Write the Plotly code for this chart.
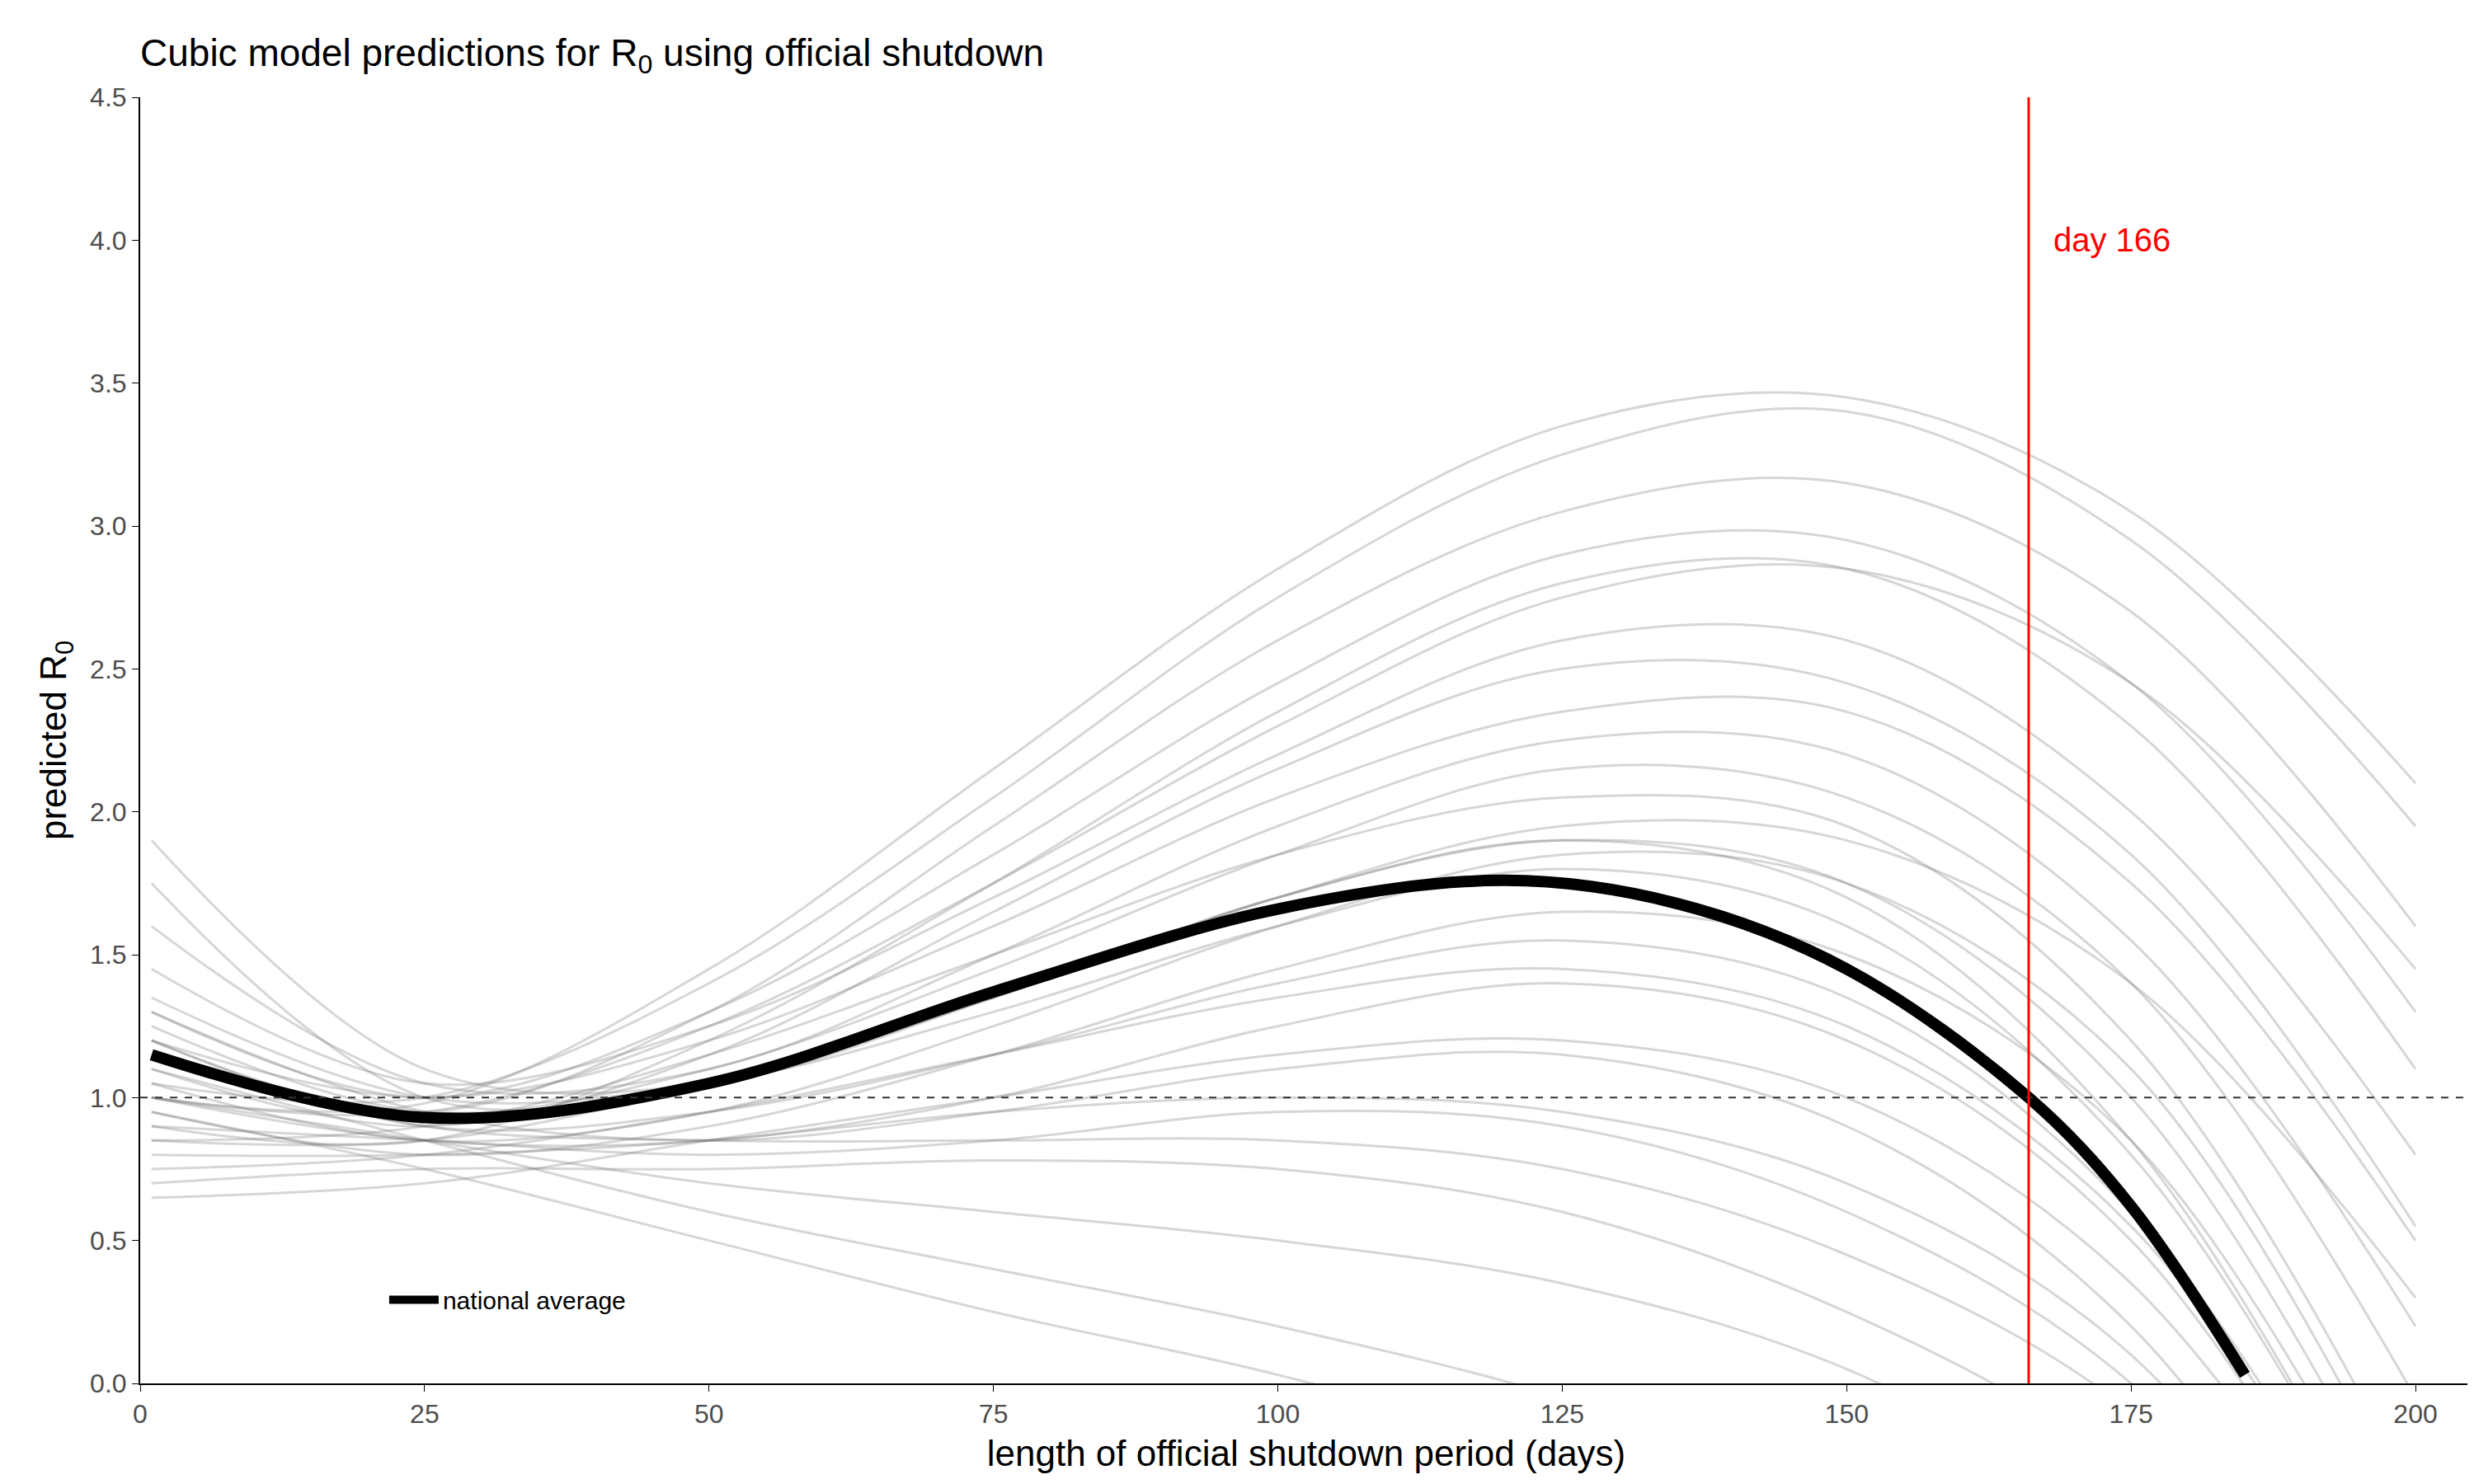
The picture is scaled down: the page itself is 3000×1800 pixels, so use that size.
import plotly.graph_objects as go

xs = [1, 25, 50, 75, 100, 125, 150, 175, 200]

# grey state curves, read at xs (last value may dip below 0 where the curve leaves the plot)
curves = [
    [1.00, 0.98, 1.45, 2.15, 2.85, 3.35, 3.45, 3.05, 2.10],
    [1.05, 1.00, 1.40, 2.05, 2.75, 3.25, 3.40, 2.95, 1.95],
    [1.20, 0.95, 1.30, 1.95, 2.60, 3.05, 3.15, 2.70, 1.60],
    [1.30, 1.00, 1.30, 1.85, 2.45, 2.90, 2.95, 2.45, 1.30],
    [0.90, 0.85, 1.20, 1.75, 2.35, 2.80, 2.85, 2.30, 1.10],
    [1.45, 1.05, 1.25, 1.70, 2.20, 2.60, 2.60, 2.00, 0.80],
    [1.10, 0.90, 1.15, 1.65, 2.15, 2.50, 2.45, 1.85, 0.55],
    [1.60, 1.05, 1.10, 1.50, 1.95, 2.25, 2.20, 1.55, 0.20],
    [1.25, 0.95, 1.10, 1.45, 1.85, 2.15, 2.05, 1.40, -0.05],
    [0.85, 0.90, 1.15, 1.50, 1.85, 2.05, 1.95, 1.20, -0.4],
    [1.75, 1.00, 1.05, 1.35, 1.70, 1.90, 1.75, 1.00, -0.6],
    [1.90, 1.10, 1.05, 1.35, 1.70, 1.90, 1.70, 0.85, -0.8],
    [1.35, 1.00, 1.05, 1.30, 1.60, 1.80, 1.60, 0.80, -0.8],
    [1.05, 0.85, 0.95, 1.25, 1.60, 1.85, 1.75, 1.10, -0.5],
    [0.95, 0.80, 0.90, 1.15, 1.45, 1.65, 1.50, 0.85, -0.7],
    [1.20, 0.90, 0.95, 1.15, 1.40, 1.55, 1.35, 0.60, -0.9],
    [0.75, 0.80, 0.95, 1.15, 1.35, 1.45, 1.25, 0.55, -0.9],
    [1.00, 0.85, 0.85, 1.00, 1.25, 1.40, 1.20, 0.50, -1.0],
    [0.65, 0.70, 0.85, 1.00, 1.15, 1.20, 1.00, 0.35, -1.0],
    [1.30, 0.95, 0.85, 0.95, 1.10, 1.15, 0.90, 0.20, -1.2],
    [0.80, 0.80, 0.85, 0.95, 1.00, 0.95, 0.70, 0.10, -1.2],
    [0.90, 0.85, 0.80, 0.85, 0.95, 0.90, 0.60, 0.00, -1.2],
    [1.15, 0.90, 0.85, 0.85, 0.85, 0.75, 0.45, -0.1, -1.2],
    [0.70, 0.75, 0.75, 0.78, 0.75, 0.60, 0.25, -0.3, -1.2],
    [1.00, 0.85, 0.70, 0.60, 0.50, 0.35, 0.05, -0.5, -1.2],
    [1.10, 0.85, 0.60, 0.40, 0.20, -0.05, -0.4, -1.0, -1.5],
    [0.95, 0.75, 0.50, 0.25, 0.03, -0.25, -0.6, -1.0, -1.5],
    [1.20, 1.00, 1.20, 1.60, 2.05, 2.35, 2.35, 1.75, 0.50],
    [1.00, 0.95, 1.25, 1.75, 2.30, 2.75, 2.85, 2.45, 1.45],
    [0.85, 0.85, 1.05, 1.35, 1.70, 1.95, 1.90, 1.40, 0.30],
]

avg_x = [1, 25, 50, 75, 100, 120, 135, 150, 166, 175, 185]
avg_y = [1.15, 0.93, 1.05, 1.37, 1.66, 1.76, 1.68, 1.45, 1.00, 0.62, 0.03]

fig = go.Figure()
for c in curves:
    fig.add_trace(go.Scatter(x=xs, y=c, mode="lines", line=dict(color="rgba(120,120,120,0.3)", width=3, shape="spline"),
                             showlegend=False, hoverinfo="skip"))

fig.add_hline(y=1, line=dict(color="#333333", width=2, dash="dash"))
fig.add_vline(x=166, line=dict(color="red", width=3))
fig.add_annotation(x=168, y=4.0, text="day 166", showarrow=False, xanchor="left",
                   font=dict(color="red", size=40))

fig.add_trace(go.Scatter(x=avg_x, y=avg_y, mode="lines", name="national average",
                         line=dict(color="black", width=14, shape="spline")))

fig.update_layout(
    width=3000, height=1800, plot_bgcolor="white", paper_bgcolor="white",
    font=dict(family="Liberation Sans, Arial", size=32, color="#4d4d4d"),
    title=dict(text="Cubic model predictions for R<sub>0</sub> using official shutdown",
               x=0.054, y=0.978, xanchor="left", font=dict(size=46, color="black")),
    margin=dict(l=162, r=10, t=110, b=130),
    legend=dict(x=0.105, y=0.065, xanchor="left", yanchor="middle", bgcolor="rgba(0,0,0,0)",
                itemwidth=60, font=dict(size=30, color="black")),
)
fig.update_xaxes(range=[0, 205], tickvals=[0, 25, 50, 75, 100, 125, 150, 175, 200], showgrid=False, zeroline=False,
                 showline=True, linecolor="black", linewidth=2, ticks="outside", ticklen=8, tickcolor="black",
                 title=dict(text="length of official shutdown period (days)", font=dict(size=44, color="black")))
fig.update_yaxes(range=[0, 4.5], dtick=0.5, tickformat=".1f", showgrid=False, zeroline=False,
                 showline=True, linecolor="black", linewidth=2, ticks="outside", ticklen=8, tickcolor="black",
                 title=dict(text="predicted R<sub>0</sub>", font=dict(size=44, color="black")))

fig.write_html("out.html")
